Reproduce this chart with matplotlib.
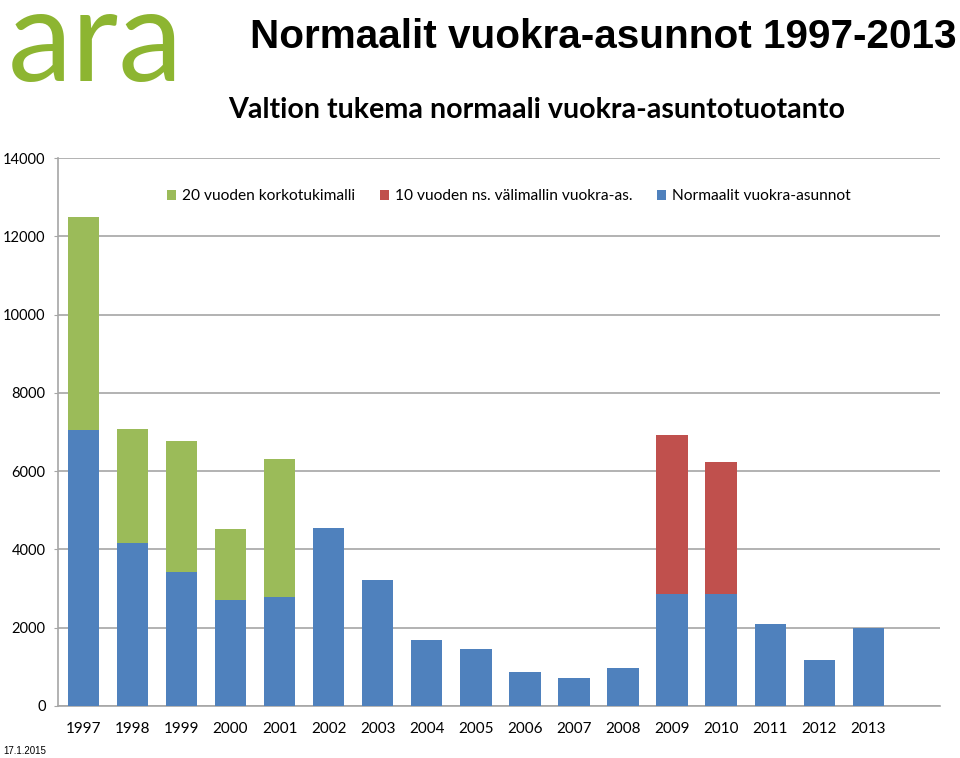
import numpy as np
import matplotlib.pyplot as plt

years = ['1997', '1998', '1999', '2000', '2001', '2002', '2003', '2004', '2005',
         '2006', '2007', '2008', '2009', '2010', '2011', '2012', '2013']
normaalit = [7050, 4170, 3430, 2710, 2790, 4555, 3210, 1680, 1455,
             870, 700, 965, 2870, 2850, 2080, 1170, 1990]
korkotuki20 = [5430, 2900, 3335, 1805, 3520, 0, 0, 0, 0,
               0, 0, 0, 0, 0, 0, 0, 0]
valimalli10 = [0, 0, 0, 0, 0, 0, 0, 0, 0,
               0, 0, 0, 4055, 3375, 0, 0, 0]

blue = '#4F81BD'
red = '#C0504D'
green = '#9BBB59'
grey = '#A6A6A6'

fig = plt.figure(figsize=(9.6, 7.58), dpi=100)
ax = fig.add_axes([58/960, 1-705.8/758, (940-58)/960, (705.8-158)/758])

x = np.arange(len(years))
w = 0.64
normaalit = np.array(normaalit)
korkotuki20 = np.array(korkotuki20)
valimalli10 = np.array(valimalli10)

b1 = ax.bar(x, normaalit, w, color=blue, zorder=3)
b2 = ax.bar(x, korkotuki20, w, bottom=normaalit, color=green, zorder=3)
b3 = ax.bar(x, valimalli10, w, bottom=normaalit, color=red, zorder=3)

ax.set_xlim(-0.516, 17.46)
ax.set_ylim(0, 14000)
ax.set_yticks(np.arange(0, 14001, 2000))
ax.set_xticks(x)
ax.set_xticklabels(years)
ax.yaxis.grid(True, color=grey, linewidth=1.2, zorder=0)
for s in ['top', 'right']:
    ax.spines[s].set_visible(False)
for s in ['left', 'bottom']:
    ax.spines[s].set_color(grey)
    ax.spines[s].set_linewidth(1.2)
ax.tick_params(axis='y', length=3, color=grey, labelsize=10.5, pad=6)
ax.tick_params(axis='x', length=0, labelsize=11, pad=12)
for lab in ax.get_xticklabels() + ax.get_yticklabels():
    lab.set_family('Lato')

ax.legend([b2, b3, b1],
          ['20 vuoden korkotukimalli', '10 vuoden ns. välimallin vuokra-as.', 'Normaalit vuokra-asunnot'],
          loc='center', bbox_to_anchor=(0.511, 0.930), ncol=3, frameon=False,
          prop={'family': 'Lato', 'size': 11.2}, handlelength=0.6, handleheight=0.6,
          handletextpad=0.35, columnspacing=1.6)

# otsikot
fig.text(250/960, 1-48/758, 'Normaalit vuokra-asunnot 1997-2013', family='Liberation Sans',
         fontweight='bold', fontsize=29.2, ha='left', va='baseline')
fig.text(228/960, 1-118/758, 'Valtion tukema normaali vuokra-asuntotuotanto', family='Lato',
         fontweight='bold', fontsize=20.6, ha='left', va='baseline')
# logo
fig.text(8/960, 1-81/758, 'ara', family='Lato', fontweight='normal', fontsize=93,
         color='#8DB531', ha='left', va='baseline')
fig.text(3/960, 1-756/758, '17.1.2015', family='Liberation Sans', fontsize=7,
         ha='left', va='bottom')

fig.savefig('out.png', dpi=100)
